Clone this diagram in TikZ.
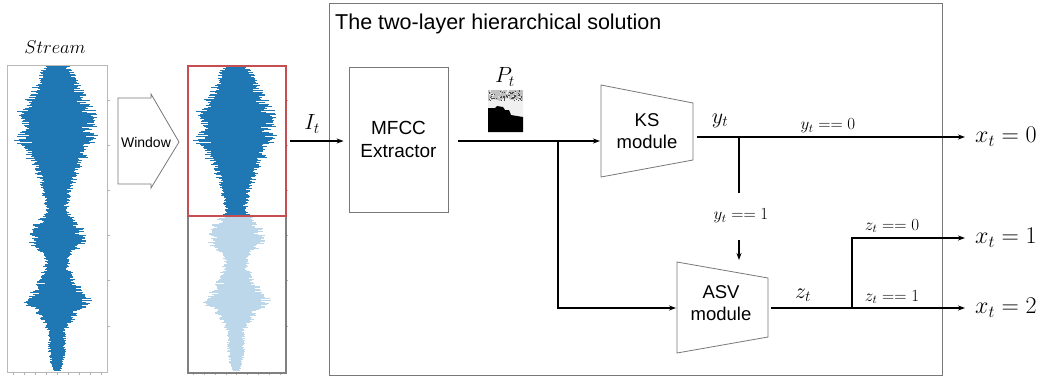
\RequirePackage{fix-cm}
\documentclass[tikz,border=0pt]{standalone}
\usepackage{fontspec}
\setsansfont{Liberation Sans}
\usetikzlibrary{arrows.meta}
\definecolor{wblue}{RGB}{31,119,180}
\definecolor{wlight}{RGB}{189,215,234}
\definecolor{boxgray}{RGB}{120,120,120}
\definecolor{redbox}{RGB}{196,78,82}
\newcommand\wavedraw[2]{%
  \foreach \ya/\wa/\yb/\wb in {65/13/75/20, 75/20/85/27, 85/27/100/34, 100/34/113/43, 113/43/140/45, 140/45/157/33, 157/33/173/23, 173/23/190/17, 190/17/210/12, 210/12/230/30, 230/30/243/31, 243/31/257/13, 257/13/270/15, 270/15/290/27, 290/27/300/40, 300/40/313/23, 313/23/330/10, 330/10/350/10, 350/10/370/5}{%
    \foreach \yy in {\ya,...,\yb}{%
      \pgfmathsetmacro\wvW{\wa+(\wb-\wa)*(\yy-\ya)/(\yb-\ya)}%
      \pgfmathsetmacro\wvBL{rnd}%
      \pgfmathsetmacro\wvBR{rnd}%
      \pgfmathsetmacro\wvL{\wvW*(0.5+0.3*\wvBL+0.2*rnd)}%
      \pgfmathsetmacro\wvR{\wvW*(0.5+0.3*\wvBR+0.2*rnd)}%
      \draw[#2, line width=0.7pt] (#1-\wvL,\yy) -- (#1+\wvR,\yy);
      \pgfmathsetmacro\wvL{\wvW*(0.5+0.3*\wvBL+0.2*rnd)}%
      \pgfmathsetmacro\wvR{\wvW*(0.5+0.3*\wvBR+0.2*rnd)}%
      \draw[#2, line width=0.7pt] (#1-\wvL,\yy+0.5) -- (#1+\wvR,\yy+0.5);
    }}}
\begin{document}
\begin{tikzpicture}[x=1pt,y=-1pt,
  conn/.style={line width=1.1pt, black},
  arr/.style={conn, -{Stealth[length=7pt,width=5pt]}},
  blk/.style={draw=boxgray, line width=0.8pt},
  sflabel/.style={font=\sffamily\fontsize{18.5}{22}\selectfont, align=center, inner sep=0pt},
  mlabel/.style={font=\fontsize{22}{26}\selectfont, inner sep=0pt},
  slabel/.style={font=\fontsize{17}{20}\selectfont, inner sep=0pt},
  outlabel/.style={font=\fontsize{24}{28}\selectfont, anchor=west, inner sep=0pt},
  tick/.style={draw=gray!60, line width=0.5pt}]
\useasboundingbox (0,0) rectangle (1041,381);

% ---------- stream ----------
\node[font=\fontsize{18.5}{22}\selectfont, inner sep=0pt] (streamlbl) at (55,47) {$Stream$};
\begin{scope}
  \clip (7,65) rectangle (107,372);
  \pgfmathsetseed{7}
  \wavedraw{57}{wblue}
\end{scope}
\node[draw=gray!55, line width=0.6pt, minimum width=100pt, minimum height=307pt, inner sep=0pt, anchor=north west] (streambox) at (7,65) {};
\foreach \tx in {13,24,35,46,57,68,79,90,101}{\draw[tick] (\tx,372) -- (\tx,375);}
\foreach \ty in {100,145,190,235,280,326}{\draw[tick] (107,\ty) -- (110,\ty);}

% ---------- window arrow ----------
\draw[blk] (118,98) -- (151,98) -- (151,94) -- (179,142) -- (151,188) -- (151,184) -- (118,184) -- cycle;
\node[font=\sffamily\fontsize{14}{17}\selectfont, inner sep=0pt] (window) at (146,142) {Window};

% ---------- windowed stream ----------
\begin{scope}
  \clip (187,65) rectangle (285,215);
  \pgfmathsetseed{7}
  \wavedraw{236}{wblue}
\end{scope}
\begin{scope}
  \clip (187,215) rectangle (285,372);
  \pgfmathsetseed{7}
  \wavedraw{236}{wlight}
\end{scope}
\foreach \tx in {193,204,215,226,236,247,258,269,280}{\draw[tick] (\tx,372) -- (\tx,375);}
\foreach \ty in {100,145,190,235,280,326}{\draw[tick] (285,\ty) -- (288,\ty);}
\node[draw=gray, line width=1.8pt, minimum width=98pt, minimum height=157pt, inner sep=0pt, anchor=north west] (restbox) at (187,215) {};
\node[draw=redbox, line width=1.5pt, minimum width=98pt, minimum height=150pt, inner sep=0pt, anchor=north west] (winbox) at (187,65) {};

% ---------- big frame ----------
\node[draw=boxgray, line width=1pt, minimum width=613pt, minimum height=372pt, inner sep=0pt, anchor=north west] (frame) at (329,3) {};
\node[anchor=base west, font=\sffamily\fontsize{21.5}{25}\selectfont, inner sep=0pt] (title) at (335,29) {The two-layer hierarchical solution};

% ---------- MFCC ----------
\node[blk, sflabel, font=\sffamily\fontsize{19}{23}\selectfont, minimum width=99pt, minimum height=145pt] (mfcc) at (398.5,139.5) {MFCC\\Extractor};
\coordinate (winout) at (290,141);
\draw[arr, shorten >=5pt] (winout) -- (mfcc.west |- winout);
\node[mlabel] (itlbl) at (312,124) {$I_t$};

% P_t spectrogram
\node[mlabel] (ptlbl) at (505,77) {$P_t$};
\fill[gray!50] (488,90) rectangle (523,102);
\fill[gray!12] (488,101) -- (494,99) -- (500,101) -- (506,98) -- (512,100) -- (518,99) -- (523,101) -- (523,118) -- (488,118) -- cycle;
\begin{scope}
  \pgfmathsetseed{3}
  \foreach \i in {1,...,60}{
    \pgfmathsetmacro\sx{488+34*rnd}
    \pgfmathsetmacro\sy{90+10*rnd}
    \fill[black!70] (\sx,\sy) rectangle ++(1.2,1.2);
  }
  \foreach \i in {1,...,30}{
    \pgfmathsetmacro\sx{488+34*rnd}
    \pgfmathsetmacro\sy{90+10*rnd}
    \fill[gray!15] (\sx,\sy) rectangle ++(1.2,1.2);
  }
\end{scope}
\fill[black] (488,108) -- (495,108) -- (497,106) -- (503,107) -- (505,110) -- (509,110) -- (511,115) -- (517,116) -- (523,117) -- (523,132) -- (488,132) -- cycle;

% ---------- KS module ----------
\draw[blk] (601,85) -- (693,103) -- (693,160) -- (601,177) -- cycle;
\node[sflabel] (ks) at (647,131) {KS\\module};
\coordinate (split) at (558,141);
\coordinate (ksin) at (600,141);
\draw[conn, shorten <=10pt] (mfcc.east |- split) -- (split);
\draw[arr] (split) -- (ksin);

% ---------- ASV module ----------
\draw[blk] (677,262) -- (768,278) -- (768,337) -- (677,353) -- cycle;
\node[sflabel] (asv) at (721,303) {ASV\\module};
\coordinate (asvin) at (676,308);
\draw[arr] (split) |- (asvin);

% ---------- outputs ----------
\node[outlabel] (x0) at (975,137) {$x_t = 0$};
\node[outlabel] (x1) at (975,238) {$x_t = 1$};
\node[outlabel] (x2) at (975,308) {$x_t = 2$};

\coordinate (ksout) at (697,137);
\coordinate (yj) at (739,137);
\coordinate (yjend) at (739,193);
\coordinate (yarrs) at (739,240);
\coordinate (yarre) at (739,260);
\draw[arr, shorten >=10pt] (ksout) -- (x0.west |- ksout);
\draw[conn] (yj) -- (yjend);
\draw[arr] (yarrs) -- (yarre);
\node[mlabel] (ylbl) at (720,121) {$y_t$};
\node[slabel] (y0lbl) at (828,126) {$y_t == 0$};
\node[slabel] (y1lbl) at (741,216) {$y_t == 1$};

\coordinate (asvout) at (771,308);
\coordinate (zj) at (852,308);
\draw[arr, shorten >=10pt] (asvout) -- (x2.west |- asvout);
\draw[arr, shorten >=10pt] (zj) |- (x1.west);
\node[mlabel] (zlbl) at (803,295) {$z_t$};
\node[slabel] (z0lbl) at (892,226) {$z_t == 0$};
\node[slabel] (z1lbl) at (892,297) {$z_t == 1$};
\end{tikzpicture}
\end{document}
